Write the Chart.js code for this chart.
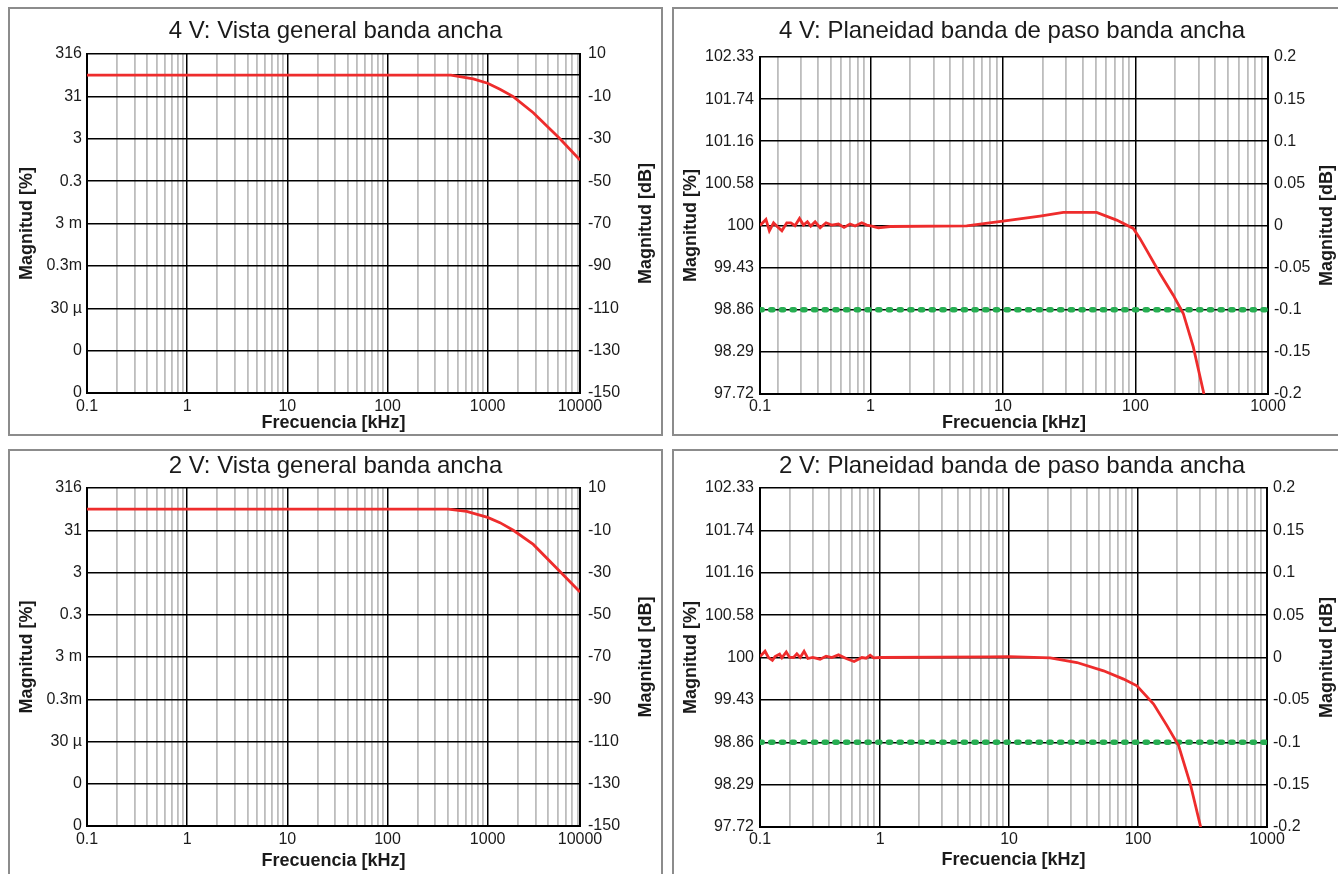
<!DOCTYPE html>
<html lang="es">
<head>
<meta charset="utf-8">
<title>Respuesta en frecuencia banda ancha</title>
<script src="https://cdn.jsdelivr.net/npm/chart.js@4.4.1/dist/chart.umd.min.js"></script>
<style>
    html, body { margin: 0; padding: 0; background: #fff; overflow: hidden; }
    body { width: 1338px; height: 874px; position: relative; }
    .marco { position: absolute; box-sizing: border-box; border: 2px solid #8c8c8c; background: #fff; }
    canvas { position: absolute; }
</style>
</head>
<body>
<script>
// ============================================
// DATOS
// ============================================

// Eje de frecuencia [kHz] (los extremos llevan la etiqueta del original)
const overviewFreqTicks = [0.1, 1, 10, 100, 1000, 8360];
const overviewFreqLabels = ['0.1', '1', '10', '100', '1000', '10000'];
const flat4VFreqTicks = [0.147, 1, 10, 100, 1000];
const flat2VFreqTicks = [0.117, 1, 10, 100, 1000];
const flatFreqLabels = ['0.1', '1', '10', '100', '1000'];

// Magnitud, vista general
const overviewDbTicks = [-150, -130, -110, -90, -70, -50, -30, -10, 10];
const overviewPctLabels = ['0', '0', '30 µ', '0.3m', '3 m', '0.3', '3', '31', '316'];
const overviewDbLabels = ['-150', '-130', '-110', '-90', '-70', '-50', '-30', '-10', '10'];
const overviewRefDb = 0;

// Magnitud, planeidad
const flatDbTicks = [-0.2, -0.15, -0.1, -0.05, 0, 0.05, 0.1, 0.15, 0.2];
const flatPctLabels = ['97.72', '98.29', '98.86', '99.43', '100', '100.58', '101.16', '101.74', '102.33'];
const flatDbLabels = ['-0.2', '-0.15', '-0.1', '-0.05', '0', '0.05', '0.1', '0.15', '0.2'];
const flatLimitDb = -0.1;

// Curva 4 V, vista general
const overview4VFreq = [0.1, 430, 718, 1000, 1327, 1803, 2856, 5273, 8360];
const overview4VDb = [0, 0, -1.7, -3.8, -6.6, -10.1, -17.7, -30, -40.1];

// Curva 2 V, vista general
const overview2VFreq = [0.1, 404, 617, 1000, 1327, 1803, 2856, 5273, 8360];
const overview2VDb = [0, 0, -1.1, -3.9, -6.4, -10, -16.7, -29.5, -39.2];

// Curva 4 V, planeidad
const flat4VFreq = [0.147, 0.163, 0.173, 0.186, 0.199, 0.215, 0.234, 0.251, 0.270, 0.292,
    0.313, 0.335, 0.355, 0.383, 0.418, 0.463, 0.511, 0.574, 0.633, 0.703,
    0.767, 0.861, 0.939, 1.024, 1.15, 1.41, 5.33, 10, 19.05, 28.56,
    50.95, 72.1, 96.3, 108, 121.4, 153, 192.9, 229.5, 273.1, 328.6];
const flat4VDb = [0, 0.0072, -0.0063, 0.0032, -0.0015, -0.0063, 0.0032, 0.0032, -0.0003, 0.0084,
    0.0005, 0.0044, -0.0007, 0.0044, -0.0027, 0.0032, 0.0005, 0.0017, -0.0023, 0.0017,
    -0.0007, 0.0032, 0.0005, -0.0007, -0.0027, -0.0012, -0.0005, 0.0052, 0.0112, 0.0155,
    0.0155, 0.0064, -0.0035, -0.0153, -0.0292, -0.0569, -0.0827, -0.1044, -0.144, -0.2];

// Curva 2 V, planeidad
const flat2VFreq = [0.117, 0.128, 0.136, 0.146, 0.153, 0.166, 0.173, 0.187, 0.198, 0.213,
    0.226, 0.240, 0.257, 0.275, 0.300, 0.342, 0.381, 0.422, 0.475, 0.545,
    0.628, 0.721, 0.779, 0.837, 0.888, 1, 7.13, 10, 20.8, 33.6,
    54, 77.2, 98, 132, 167.5, 206.2, 254, 306];
const flat2VDb = [0.0011, 0.0074, 0, -0.0032, 0.0011, 0.0039, -0.0004, 0.0066, 0.0004, 0,
    0.0043, 0, 0.0074, -0.0012, 0, -0.002, 0.0015, 0, 0.0031, -0.0012,
    -0.0047, 0, -0.0008, 0.0027, -0.0004, 0, 0.0007, 0.001, -0.0004, -0.0059,
    -0.0157, -0.0255, -0.0334, -0.0549, -0.0804, -0.104, -0.149, -0.2];

// ============================================
// ESTILO
// ============================================

const FONT = "'Liberation Sans', Arial, Helvetica, sans-serif";
const TEXT = '#1a1a1a';
const RED = '#ee2c2c';
const GREEN = '#27ae52';
const MINOR_GRID = '#bdbdbd';

// ============================================
// PANELES
// ============================================

const panels = [
    {
        title: '4 V: Vista general banda ancha', kind: 'overview',
        box: [8, 7, 655, 429], canvas: [651, 425], plot: [87, 54, 580, 393],
        titleY: 31.3, yTitleX: [27, 646], xTitleY: 423, xTickPad: 4.4, yTickPad: [5, 8],
        freq: overview4VFreq, db: overview4VDb
    },
    {
        title: '4 V: Planeidad banda de paso banda ancha', kind: 'flat',
        box: [672, 7, 680, 429], canvas: [676, 425], plot: [760, 57, 1268, 394],
        titleY: 31.7, yTitleX: [691.5, 1327], xTitleY: 423, xTickPad: 2.5, yTickPad: [6, 6],
        freq: flat4VFreq, db: flat4VDb, freqTicks: flat4VFreqTicks
    },
    {
        title: '2 V: Vista general banda ancha', kind: 'overview',
        box: [8, 449, 655, 440], canvas: [651, 421], plot: [87, 488, 580, 826],
        titleY: 466.7, yTitleX: [27, 646], xTitleY: 861, xTickPad: 4.4, yTickPad: [5, 8],
        freq: overview2VFreq, db: overview2VDb
    },
    {
        title: '2 V: Planeidad banda de paso banda ancha', kind: 'flat',
        box: [672, 449, 680, 440], canvas: [676, 421], plot: [760, 488, 1267, 827],
        titleY: 466.7, yTitleX: [691.5, 1327], xTitleY: 860, xTickPad: 2.5, yTickPad: [6, 6],
        freq: flat2VFreq, db: flat2VDb, freqTicks: flat2VFreqTicks
    }
];

// ============================================
// FUNCIONES
// ============================================

function toPoints(xs, ys) {
    return xs.map((x, i) => ({ x: x, y: ys[i] }));
}

function labelMap(values, labels) {
    const map = new Map();
    values.forEach((v, i) => map.set(v, labels[i]));
    return map;
}

// Marcas mayores (decadas) + menores 2..9 de cada decada
function buildFreqTicks(majors, min, max) {
    const ticks = majors.map(v => ({ value: v, major: true }));
    for (let d = -1; d <= 3; d++) {
        for (let k = 2; k <= 9; k++) {
            const v = k * Math.pow(10, d);
            if (v > min && v < max) ticks.push({ value: v, major: false });
        }
    }
    return ticks.sort((a, b) => a.value - b.value);
}

// Titulo del eje derecho, leido de abajo hacia arriba como el izquierdo
const rightTitlePlugin = {
    id: 'rightTitle',
    afterDraw(chart, args, opts) {
        const { ctx, chartArea } = chart;
        ctx.save();
        ctx.translate(opts.x, (chartArea.top + chartArea.bottom) / 2);
        ctx.rotate(-Math.PI / 2);
        ctx.font = 'bold 18px ' + FONT;
        ctx.fillStyle = TEXT;
        ctx.textAlign = 'center';
        ctx.textBaseline = 'middle';
        ctx.fillText(opts.text, 0, 0);
        ctx.restore();
    }
};

function createPanel(p) {
    const frame = document.createElement('div');
    frame.className = 'marco';
    frame.style.left = p.box[0] + 'px';
    frame.style.top = p.box[1] + 'px';
    frame.style.width = p.box[2] + 'px';
    frame.style.height = p.box[3] + 'px';
    document.body.appendChild(frame);

    const cx = p.box[0] + 2;
    const cy = p.box[1] + 2;
    const cw = p.canvas[0];
    const ch = p.canvas[1];
    const canvas = document.createElement('canvas');
    canvas.width = cw;
    canvas.height = ch;
    canvas.style.left = cx + 'px';
    canvas.style.top = cy + 'px';
    canvas.style.width = cw + 'px';
    canvas.style.height = ch + 'px';
    document.body.appendChild(canvas);

    const isOverview = p.kind === 'overview';
    const freqTicks = isOverview ? overviewFreqTicks : p.freqTicks;
    const freqLabels = isOverview ? overviewFreqLabels : flatFreqLabels;
    const xMin = freqTicks[0];
    const xMax = freqTicks[freqTicks.length - 1];
    const xLabels = labelMap(freqTicks, freqLabels);

    const yTicks = isOverview ? overviewDbTicks : flatDbTicks;
    const yMin = yTicks[0];
    const yMax = yTicks[yTicks.length - 1];
    const leftLabels = labelMap(yTicks, isOverview ? overviewPctLabels : flatPctLabels);
    const rightLabels = labelMap(yTicks, isOverview ? overviewDbLabels : flatDbLabels);
    const gridTicks = isOverview ? yTicks.concat([overviewRefDb]).sort((a, b) => a - b) : yTicks;

    const [plotL, plotT, plotR, plotB] = p.plot;
    const leftW = plotL - cx;
    const rightW = cx + cw - plotR;
    const bottomH = cy + ch - plotB;
    const titlePadTop = p.titleY - cy - 14.4;
    const titlePadBottom = (plotT - cy) - titlePadTop - 28.8;

    const datasets = [{
        data: toPoints(p.freq, p.db),
        borderColor: RED,
        borderWidth: 2.8,
        pointRadius: 0,
        tension: 0
    }];
    if (!isOverview) {
        datasets.push({
            data: toPoints([xMin, xMax], [flatLimitDb, flatLimitDb]),
            borderColor: GREEN,
            borderWidth: 5.5,
            borderDash: [2.2, 8.5],
            borderCapStyle: 'round',
            pointRadius: 0
        });
    }

    const tickFont = { family: FONT, size: 16 };
    const axisTitleFont = { family: FONT, size: 18, weight: 'bold' };

    return new Chart(canvas, {
        type: 'line',
        data: { datasets: datasets },
        plugins: [rightTitlePlugin],
        options: {
            responsive: false,
            animation: false,
            devicePixelRatio: 1,
            layout: { padding: 0 },
            plugins: {
                legend: { display: false },
                tooltip: { enabled: false },
                title: {
                    display: true,
                    text: p.title,
                    color: TEXT,
                    font: { family: FONT, size: 24, weight: 'normal', lineHeight: 1.2 },
                    padding: { top: titlePadTop, bottom: titlePadBottom }
                },
                rightTitle: { text: 'Magnitud [dB]', x: p.yTitleX[1] - cx }
            },
            scales: {
                x: {
                    type: 'logarithmic',
                    min: xMin,
                    max: xMax,
                    afterBuildTicks: scale => { scale.ticks = buildFreqTicks(freqTicks, xMin, xMax); },
                    afterFit: scale => { scale.height = bottomH; },
                    ticks: {
                        autoSkip: false,
                        maxRotation: 0,
                        minRotation: 0,
                        padding: p.xTickPad,
                        color: TEXT,
                        font: tickFont,
                        callback: (value, index, ticks) => ticks[index].major ? xLabels.get(value) : ''
                    },
                    grid: {
                        drawTicks: false,
                        color: c => (c.tick && c.tick.major) ? '#000' : MINOR_GRID,
                        lineWidth: c => (c.tick && c.tick.major) ? 1.5 : 1.8
                    },
                    border: { display: true, color: '#000', width: 2 },
                    title: {
                        display: true,
                        text: 'Frecuencia [kHz]',
                        color: TEXT,
                        font: axisTitleFont,
                        padding: { top: 0, bottom: (cy + ch - p.xTitleY) - 10.8 }
                    }
                },
                y: {
                    type: 'linear',
                    position: 'left',
                    min: yMin,
                    max: yMax,
                    afterBuildTicks: scale => { scale.ticks = gridTicks.map(v => ({ value: v })); },
                    afterFit: scale => { scale.width = leftW; },
                    ticks: {
                        autoSkip: false,
                        padding: p.yTickPad[0],
                        color: TEXT,
                        font: tickFont,
                        callback: value => leftLabels.has(value) ? leftLabels.get(value) : ''
                    },
                    grid: { drawTicks: false, color: '#000', lineWidth: 1.5 },
                    border: { display: true, color: '#000', width: 2 },
                    title: {
                        display: true,
                        text: 'Magnitud [%]',
                        color: TEXT,
                        font: axisTitleFont,
                        padding: { top: p.yTitleX[0] - cx - 10.8, bottom: 0 }
                    }
                },
                y2: {
                    type: 'linear',
                    position: 'right',
                    min: yMin,
                    max: yMax,
                    afterBuildTicks: scale => { scale.ticks = yTicks.map(v => ({ value: v })); },
                    afterFit: scale => { scale.width = rightW; },
                    ticks: {
                        autoSkip: false,
                        padding: p.yTickPad[1],
                        color: TEXT,
                        font: tickFont,
                        callback: value => rightLabels.get(value)
                    },
                    grid: { display: false, drawTicks: false },
                    border: { display: true, color: '#000', width: 2 },
                    title: { display: false }
                }
            }
        }
    });
}

// ============================================
// INICIALIZACION
// ============================================

panels.forEach(p => createPanel(p));
</script>
</body>
</html>
